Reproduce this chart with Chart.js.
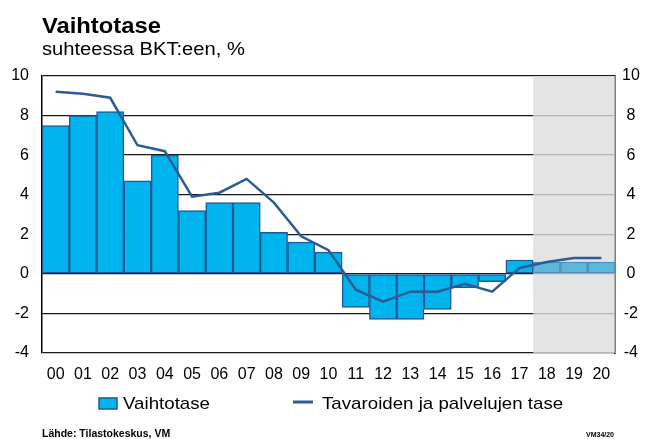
<!DOCTYPE html>
<html>
<head>
<meta charset="utf-8">
<script src="https://cdn.jsdelivr.net/npm/chart.js@4.4.1/dist/chart.umd.min.js"></script>
<style>
  html, body { margin: 0; padding: 0; background: #fff; }
  #wrap { width: 648px; height: 439px; position: relative; }
</style>
</head>
<body>
<div id="wrap"><canvas id="chart"></canvas></div>
<script>
// vuodet (00 = 2000)
const years = ['00','01','02','03','04','05','06','07','08','09','10','11','12','13','14','15','16','17','18','19','20'];
// Vaihtotase, % BKT:sta
const vaihtotase = [7.5, 8.0, 8.2, 4.7, 6.0, 3.2, 3.6, 3.6, 2.1, 1.6, 1.1, -1.7, -2.3, -2.3, -1.8, -0.7, -0.4, 0.7, 0.6, 0.6, 0.6];
// Tavaroiden ja palvelujen tase, % BKT:sta
const tavaratase = [9.2, 9.1, 8.9, 6.5, 6.2, 3.9, 4.1, 4.8, 3.6, 1.9, 1.2, -0.8, -1.4, -0.9, -0.9, -0.5, -0.9, 0.3, 0.6, 0.8, 0.8];
const yMin = -4, yMax = 10, yStep = 2;
const forecastFrom = '18';

const FONT = "'Liberation Sans', Arial, sans-serif";
const fcIdx = years.indexOf(forecastFrom);

// ennusteen harmaa tausta, piirretään ruudukon päälle läpikuultavana
const forecastShade = {
    id: 'forecastShade',
    beforeDatasetsDraw(chart) {
        const { ctx, chartArea, scales } = chart;
        const x0 = scales.x.getPixelForValue(fcIdx) - (scales.x.getPixelForValue(1) - scales.x.getPixelForValue(0)) / 2;
        ctx.save();
        ctx.fillStyle = 'rgba(221,221,221,0.8)';
        ctx.fillRect(x0, chartArea.top, chartArea.right - x0, chartArea.bottom - chartArea.top);
        ctx.restore();
    }
};

// teksti hieman leveämpänä kuten alkuperäisessä kuvassa
function wideText(ctx, str, x, y, sx) {
    ctx.save();
    ctx.translate(x, y);
    ctx.scale(sx, 1);
    ctx.fillText(str, 0, 0);
    ctx.restore();
}

// otsikot, selite ja lähde
const texts = {
    id: 'texts',
    afterDraw(chart) {
        const { ctx } = chart;
        const bars = chart.data.datasets.find(d => d.type === 'bar');
        const line = chart.data.datasets.find(d => d.type === 'line');
        ctx.save();
        ctx.fillStyle = '#000';
        ctx.textBaseline = 'alphabetic';
        ctx.textAlign = 'left';
        ctx.font = 'bold 22px ' + FONT;
        wideText(ctx, 'Vaihtotase', 42, 33, 1.08);
        ctx.font = '18px ' + FONT;
        wideText(ctx, 'suhteessa BKT:een, %', 42, 55, 1.12);

        // selite
        ctx.fillStyle = bars.backgroundColor[0];
        ctx.strokeStyle = bars.borderColor[0];
        ctx.lineWidth = 1.5;
        ctx.fillRect(99, 398, 18, 11);
        ctx.strokeRect(99, 398, 18, 11);
        ctx.strokeStyle = line.borderColor;
        ctx.lineWidth = 3;
        ctx.beginPath();
        ctx.moveTo(293, 402);
        ctx.lineTo(313, 402);
        ctx.stroke();
        ctx.fillStyle = '#000';
        ctx.font = '17px ' + FONT;
        wideText(ctx, bars.label, 123, 409, 1.1);
        wideText(ctx, line.label, 322, 409, 1.1);

        ctx.font = 'bold 10px ' + FONT;
        wideText(ctx, 'Lähde: Tilastokeskus, VM', 42, 437, 1.05);
        ctx.font = 'bold 7px ' + FONT;
        ctx.textAlign = 'right';
        ctx.fillText('VM34/20', 614, 437);
        ctx.restore();
    }
};

const tickFont = { family: FONT, size: 16 };

new Chart(document.getElementById('chart'), {
    type: 'bar',
    data: {
        labels: years,
        datasets: [
            {
                type: 'line',
                label: 'Tavaroiden ja palvelujen tase',
                data: tavaratase,
                borderColor: '#2c5c94',
                borderWidth: 2.5,
                pointRadius: 0,
                tension: 0,
                fill: false,
                order: 0
            },
            {
                type: 'bar',
                label: 'Vaihtotase',
                data: vaihtotase,
                backgroundColor: years.map((y, i) => i >= fcIdx ? '#5db6dc' : '#00b4ee'),
                borderColor: years.map((y, i) => i >= fcIdx ? '#4d8fbe' : '#1d5a96'),
                borderWidth: 1.5,
                borderSkipped: false,
                barPercentage: 1,
                categoryPercentage: 1,
                order: 1
            }
        ]
    },
    options: {
        responsive: true,
        maintainAspectRatio: false,
        animation: false,
        layout: { padding: { top: 76, left: 0, right: 0, bottom: 0 } },
        plugins: {
            legend: { display: false },
            title: { display: false },
            tooltip: { enabled: false }
        },
        scales: {
            x: {
                grid: { display: false, drawTicks: false },
                border: { display: false },
                ticks: { font: tickFont, color: '#000', padding: 12, maxRotation: 0, autoSkip: false },
                afterFit(s) { s.height = 86; }
            },
            y: {
                position: 'left',
                min: yMin, max: yMax,
                ticks: { stepSize: yStep, font: tickFont, color: '#000', padding: 13 },
                grid: { color: '#1a1a1a', lineWidth: 1.3, drawTicks: false },
                border: { display: true, color: '#000', width: 1.5 },
                afterFit(s) { s.width = 42; }
            },
            y2: {
                position: 'right',
                min: yMin, max: yMax,
                ticks: { stepSize: yStep, font: tickFont, color: '#000', padding: 7, crossAlign: 'center' },
                grid: { display: false, drawTicks: false },
                border: { display: true, color: '#000', width: 1.5 },
                afterFit(s) { s.width = 33; }
            }
        }
    },
    plugins: [forecastShade, texts]
});
</script>
</body>
</html>
